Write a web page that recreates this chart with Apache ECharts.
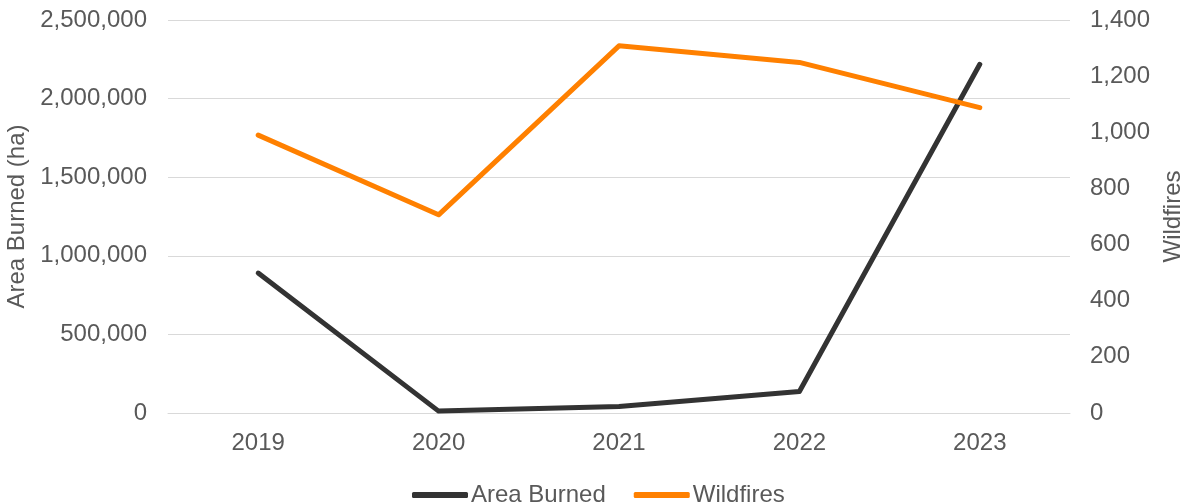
<!DOCTYPE html>
<html>
<head>
<meta charset="utf-8">
<script src="https://cdn.jsdelivr.net/npm/echarts@6/dist/echarts.min.js"></script>
<style>
  html, body { margin: 0; padding: 0; background: #fff; }
  #chart { width: 1186px; height: 503px; }
</style>
</head>
<body>
<div id="chart"></div>
<script>
// Yearly wildfire statistics
const years = ['2019', '2020', '2021', '2022', '2023'];
const areaBurned = [890000, 12000, 42000, 137000, 2218000];   // hectares
const wildfires = [990, 706, 1308, 1249, 1088];                 // fire count

const textColor = '#595959';
const gridColor = '#d9d9d9';
const fontFamily = '"Liberation Sans", Arial, sans-serif';
const fontSize = 24;

const fmt = v => v.toLocaleString('en-US');

const chart = echarts.init(document.getElementById('chart'));
chart.setOption({
  animation: false,
  textStyle: { fontFamily: fontFamily, color: textColor },
  grid: { left: 168, right: 116, top: 20, bottom: 90, containLabel: false, outerBoundsMode: 'none' },
  legend: {
    left: 412,
    top: 483,
    padding: 0,
    itemWidth: 56,
    itemHeight: 6,
    itemGap: 28,
    icon: 'roundRect',
    textStyle: { fontFamily: fontFamily, fontSize: fontSize, color: textColor, padding: [0, 0, 0, -2] },
    data: ['Area Burned', 'Wildfires']
  },
  xAxis: {
    type: 'category',
    data: years,
    boundaryGap: true,
    axisLine: { lineStyle: { color: gridColor, width: 1 } },
    axisTick: { show: false },
    axisLabel: { color: textColor, fontSize: fontSize, margin: 18 }
  },
  yAxis: [
    {
      type: 'value',
      min: 0,
      max: 2500000,
      interval: 500000,
      name: 'Area Burned (ha)',
      nameLocation: 'middle',
      nameGap: 136,
      nameTextStyle: { color: textColor, fontSize: fontSize, fontFamily: fontFamily },
      axisLine: { show: false },
      axisTick: { show: false },
      axisLabel: { color: textColor, fontSize: fontSize, margin: 21, formatter: fmt },
      splitLine: { lineStyle: { color: gridColor, width: 1 } }
    },
    {
      type: 'value',
      min: 0,
      max: 1400,
      interval: 200,
      name: 'Wildfires',
      nameLocation: 'middle',
      nameGap: 90,
      nameTextStyle: { color: textColor, fontSize: fontSize, fontFamily: fontFamily },
      axisLine: { show: false },
      axisTick: { show: false },
      axisLabel: { color: textColor, fontSize: fontSize, margin: 20, formatter: fmt },
      splitLine: { show: false }
    }
  ],
  series: [
    {
      name: 'Area Burned',
      type: 'line',
      yAxisIndex: 0,
      data: areaBurned,
      symbol: 'none',
      color: '#333333',
      lineStyle: { width: 5, color: '#333333', cap: 'round', join: 'round' }
    },
    {
      name: 'Wildfires',
      type: 'line',
      yAxisIndex: 1,
      data: wildfires,
      symbol: 'none',
      color: '#ff8000',
      lineStyle: { width: 5, color: '#ff8000', cap: 'round', join: 'round' }
    }
  ]
});
</script>
</body>
</html>
